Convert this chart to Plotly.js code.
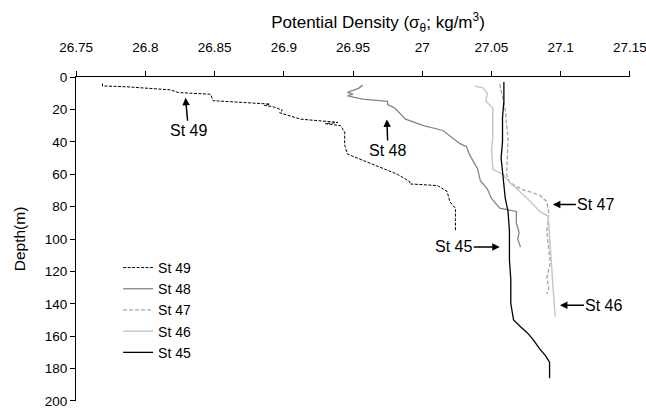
<!DOCTYPE html>
<html>
<head>
<meta charset="utf-8">
<script src="https://cdn.plot.ly/plotly-3.0.1.min.js"></script>
<style>html,body{margin:0;padding:0;background:#fff;}#chart{width:646px;height:408px;}</style>
</head>
<body>
<div id="chart"></div>
<script>
// St 49
const st49Density = [26.769, 26.769, 26.786, 26.800, 26.818, 26.824, 26.847, 26.849, 26.870, 26.890, 26.886, 26.893, 26.899, 26.897, 26.912, 26.928, 26.939, 26.930, 26.941, 26.944, 26.944, 26.946, 26.955, 26.969, 26.982, 26.991, 26.991, 27.011, 27.018, 27.020, 27.024, 27.024, 27.024];
const st49Depth   = [4.0, 5.5, 6.0, 6.9, 7.9, 9.6, 10.6, 14.6, 15.6, 16.7, 17.5, 18.5, 20.5, 22.0, 26.0, 27.0, 28.0, 28.8, 30.0, 34.0, 42.0, 47.6, 50.6, 55.5, 60.0, 64.6, 66.0, 67.0, 70.7, 77.0, 81.0, 88.0, 95.0];
// St 48
const st48Density = [26.957, 26.954, 26.946, 26.950, 26.946, 26.957, 26.975, 26.975, 26.980, 26.988, 27.001, 27.015, 27.027, 27.032, 27.034, 27.040, 27.042, 27.047, 27.050, 27.054, 27.056, 27.068, 27.068, 27.070, 27.069, 27.071];
const st48Depth   = [5.0, 7.0, 9.5, 10.5, 11.6, 13.6, 15.0, 17.0, 19.0, 26.0, 30.0, 33.0, 41.0, 43.0, 47.6, 56.7, 64.0, 69.0, 75.0, 79.0, 81.0, 83.0, 90.0, 96.0, 100.0, 105.0];
// St 47
const st47Density = [27.056, 27.058, 27.060, 27.061, 27.062, 27.061, 27.063, 27.071, 27.085, 27.090, 27.0915, 27.090, 27.091, 27.0925, 27.090, 27.0915, 27.090];
const st47Depth   = [4.3, 12.0, 20.0, 30.0, 38.0, 60.0, 65.0, 69.0, 73.0, 77.0, 84.0, 95.0, 105.0, 115.0, 124.0, 130.0, 134.0];
// St 46
const st46Density = [27.038, 27.044, 27.047, 27.046, 27.051, 27.051, 27.050, 27.051, 27.058, 27.063, 27.076, 27.085, 27.091, 27.092, 27.093, 27.094, 27.095, 27.096];
const st46Depth   = [5.5, 6.7, 9.8, 15.0, 19.0, 38.0, 44.5, 57.0, 60.0, 65.0, 75.0, 83.0, 86.0, 99.0, 112.0, 124.0, 138.0, 148.0];
// St 45
const st45Density = [27.059, 27.059, 27.058, 27.058, 27.057, 27.059, 27.060, 27.062, 27.063, 27.063, 27.064, 27.064, 27.066, 27.072, 27.076, 27.080, 27.085, 27.089, 27.092, 27.092];
const st45Depth   = [3.0, 15.0, 25.0, 40.0, 50.0, 65.0, 75.0, 83.0, 95.0, 113.0, 125.0, 140.0, 150.0, 155.0, 158.0, 162.0, 168.0, 172.0, 176.0, 186.0];

const traceNames = ['St 49', 'St 48', 'St 47', 'St 46', 'St 45'];
const xTickVals = [26.75, 26.8, 26.85, 26.9, 26.95, 27, 27.05, 27.1, 27.15];
const xTickText = ['26.75', '26.8', '26.85', '26.9', '26.95', '27', '27.05', '27.1', '27.15'];
const yTickVals = [0, 20, 40, 60, 80, 100, 120, 140, 160, 180, 200];

const font = 'Liberation Sans, Arial, sans-serif';
const traces = [
  {x: st49Density, y: st49Depth, name: traceNames[0], mode: 'lines', line: {color: '#000000', width: 1, dash: '3px,1.5px'}},
  {x: st48Density, y: st48Depth, name: traceNames[1], mode: 'lines', line: {color: '#858585', width: 1.3}},
  {x: st47Density, y: st47Depth, name: traceNames[2], mode: 'lines', line: {color: '#a6a6a6', width: 1.3, dash: '4px,2px'}},
  {x: st46Density, y: st46Depth, name: traceNames[3], mode: 'lines', line: {color: '#c8c8c8', width: 1.5}},
  {x: st45Density, y: st45Depth, name: traceNames[4], mode: 'lines', line: {color: '#000000', width: 1.3}}
];

function ann(text, x, y, ax, ay) {
  return {text: text, x: x, y: y, xref: 'x', yref: 'y', ax: ax, ay: ay, showarrow: true,
    arrowhead: 2, arrowsize: 1, arrowwidth: 1.5, arrowcolor: '#000', standoff: 0,
    font: {family: font, size: 16, color: '#000'}};
}

const layout = {
  width: 646, height: 408,
  margin: {l: 76, r: 16, t: 77, b: 7},
  paper_bgcolor: '#fff', plot_bgcolor: '#fff',
  font: {family: font, size: 13, color: '#000'},
  title: {text: 'Potential Density (σ<sub>θ</sub>; kg/m<sup>3</sup>)', font: {family: font, size: 17, color: '#000'},
    xref: 'container', yref: 'container', x: 378 / 646, xanchor: 'center', y: 1 - 22 / 408, yanchor: 'middle'},
  showlegend: true,
  legend: {x: 0.076, y: 0.46, xanchor: 'left', yanchor: 'top', bgcolor: 'rgba(0,0,0,0)',
    font: {family: font, size: 14, color: '#000'}, tracegroupgap: 0},
  xaxis: {
    side: 'top', range: [26.7499, 27.1501],
    showgrid: false, zeroline: false, showline: true, linecolor: '#000', linewidth: 1,
    ticks: 'outside', ticklen: 5, tickcolor: '#000',
    tickmode: 'array', tickvals: xTickVals, ticktext: xTickText,
    ticklabelstandoff: 14, ticklabeloverflow: 'allow',
    tickfont: {family: font, size: 13.5, color: '#000'}
  },
  yaxis: {
    range: [200.02, -0.02],
    showgrid: false, zeroline: false, showline: true, linecolor: '#000', linewidth: 1,
    ticks: 'outside', ticklen: 5, tickcolor: '#000',
    tickmode: 'array', tickvals: yTickVals, ticklabeloverflow: 'allow',
    tickfont: {family: font, size: 13.5, color: '#000'},
    title: {text: 'Depth(m)', font: {family: font, size: 15.5, color: '#000'}, standoff: 15}
  },
  annotations: [
    ann('St 49', 26.829, 12.8, 3, 33),
    ann('St 48', 26.9745, 26.2, 1, 31),
    ann('St 47', 27.0944, 78.7, 43, 0),
    ann('St 46', 27.0995, 140.9, 44, 0),
    ann('St 45', 27.056, 104.9, -46, 0)
  ]
};

Plotly.newPlot('chart', traces, layout, {displayModeBar: false, staticPlot: true});
</script>
</body>
</html>
